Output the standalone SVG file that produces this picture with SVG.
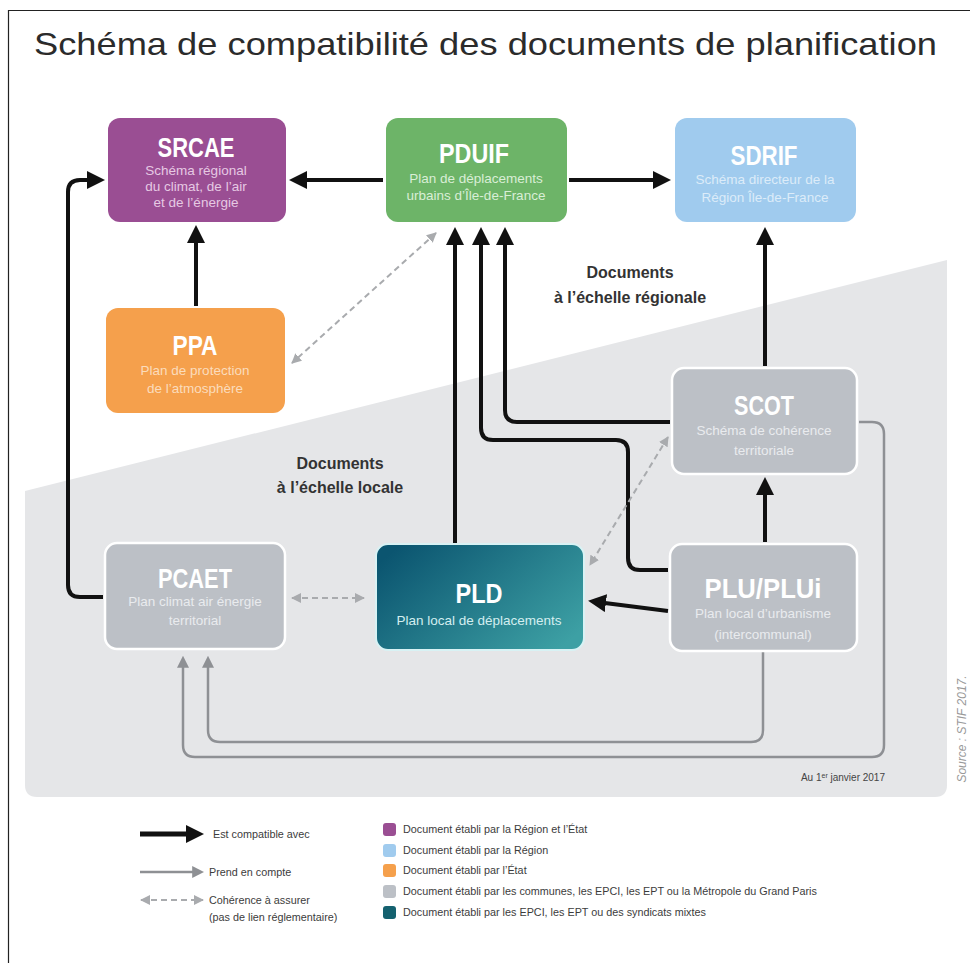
<svg xmlns="http://www.w3.org/2000/svg" width="970" height="963" viewBox="0 0 970 963">
  <defs>
    <style>
      .ttl { font-family: "Liberation Sans Narrow", "Liberation Sans", Arial, sans-serif; font-weight: bold; fill: #ffffff; text-anchor: middle; }
      .sub { font-family: "Liberation Sans", Arial, sans-serif; font-size: 13.5px; text-anchor: middle; }
      .zone { font-family: "Liberation Sans", Arial, sans-serif; font-size: 16px; font-weight: bold; fill: #333333; text-anchor: middle; }
      .leg { font-family: "Liberation Sans", Arial, sans-serif; font-size: 10.8px; fill: #3c3c3c; }
      .node rect { rx: 12px; ry: 12px; }
      .grey rect { fill: #bcc0c6; stroke: #ffffff; stroke-width: 2.5; }
      .grey .sub { fill: #e9ebee; }
      .blk { fill: none; stroke: #111111; stroke-width: 4; marker-end: url(#ah-black); }
      .gry { fill: none; stroke: #8e9094; stroke-width: 2.5; marker-end: url(#ah-grey); }
      .dsh { fill: none; stroke: #a9abae; stroke-width: 2; stroke-dasharray: 6 4; marker-start: url(#ah-dash); marker-end: url(#ah-dash); }
    </style>
    <marker id="ah-black" viewBox="0 0 10 10" refX="5" refY="5" markerWidth="18" markerHeight="18" markerUnits="userSpaceOnUse" orient="auto">
      <path d="M0,0 L10,5 L0,10 z" fill="#111111"/>
    </marker>
    <marker id="ah-grey" viewBox="0 0 10 10" refX="4" refY="5" markerWidth="12" markerHeight="12" markerUnits="userSpaceOnUse" orient="auto">
      <path d="M0,0 L10,5 L0,10 z" fill="#8e9094"/>
    </marker>
    <marker id="ah-dash" viewBox="0 0 10 10" refX="9" refY="5" markerWidth="10" markerHeight="10" markerUnits="userSpaceOnUse" orient="auto-start-reverse">
      <path d="M0,0 L10,5 L0,10 z" fill="#a9abae"/>
    </marker>
    <linearGradient id="teal" x1="0" y1="0.2" x2="1" y2="0.8">
      <stop offset="0" stop-color="#0b5570"/>
      <stop offset="1" stop-color="#3da0a4"/>
    </linearGradient>
  </defs>

  <!-- page -->
  <rect x="0" y="0" width="970" height="963" fill="#ffffff"/>
  <path d="M8.5,963 V10.5 H970" fill="none" stroke="#222222" stroke-width="1.2"/>

  <text x="34" y="55" font-family="Liberation Sans, Arial, sans-serif" font-size="32" fill="#2b2b2b" textLength="903" lengthAdjust="spacingAndGlyphs">Schéma de compatibilité des documents de planification</text>

  <!-- local-scale zone -->
  <path d="M25,491 L947,260 L947,785 Q947,797 935,797 L37,797 Q25,797 25,785 Z" fill="#e5e6e8"/>

  <text class="zone" x="630" y="278">Documents</text>
  <text class="zone" x="630" y="303">à l’échelle régionale</text>
  <text class="zone" x="340" y="469">Documents</text>
  <text class="zone" x="340" y="493">à l’échelle locale</text>

  <text x="885" y="781" font-family="Liberation Sans, Arial, sans-serif" font-size="10" fill="#444444" text-anchor="end">Au 1<tspan font-size="7" baseline-shift="super">er</tspan> janvier 2017</text>
  <text transform="translate(966,729) rotate(-90)" font-family="Liberation Sans, Arial, sans-serif" font-size="12" font-style="italic" fill="#9a9a9a" text-anchor="middle">Source : STIF 2017.</text>

  <!-- connectors -->
  <g id="connectors">
    <path class="blk" d="M383,180 H298"/>
    <path class="blk" d="M569,180 H662"/>
    <path class="blk" d="M196,306 V234"/>
    <path class="blk" d="M103,597 H80 Q68,597 68,585 V192 Q68,180 80,180 H96"/>
    <path class="blk" d="M455,543 V236"/>
    <path class="blk" d="M668,570 H640 Q628,570 628,558 V452 Q628,440 616,440 H493 Q481,440 481,428 V236"/>
    <path class="blk" d="M670,422 H517 Q505,422 505,410 V236"/>
    <path class="blk" d="M765,366 V236"/>
    <path class="blk" d="M765,542 V486"/>
    <path class="blk" d="M668,611 L597,602"/>

    <path class="gry" d="M763,652 V730 Q763,742 751,742 H220 Q208,742 208,730 V663"/>
    <path class="gry" d="M859,422 H872 Q884,422 884,434 V745 Q884,757 872,757 H195 Q183,757 183,745 V663"/>

    <path class="dsh" d="M436,233 L292,363"/>
    <path class="dsh" d="M668,437 L590,565"/>
    <path class="dsh" d="M292,598 L364,598"/>
  </g>

  <!-- nodes -->
  <g id="srcae" class="node">
    <rect x="108" y="118" width="178" height="104" fill="#9a4e93"/>
    <text class="ttl" x="196" y="157" font-size="28" textLength="77" lengthAdjust="spacingAndGlyphs">SRCAE</text>
    <text class="sub" x="196" y="175" fill="#e6c9e3">Schéma régional</text>
    <text class="sub" x="196" y="191" fill="#e6c9e3">du climat, de l’air</text>
    <text class="sub" x="196" y="207" fill="#e6c9e3">et de l’énergie</text>
  </g>

  <g id="pduif" class="node">
    <rect x="386" y="118" width="181" height="104" fill="#6db468"/>
    <text class="ttl" x="474" y="163" font-size="28" textLength="70" lengthAdjust="spacingAndGlyphs">PDUIF</text>
    <text class="sub" x="476" y="183" fill="#d9eed6">Plan de déplacements</text>
    <text class="sub" x="476" y="200" fill="#d9eed6">urbains d’Île-de-France</text>
  </g>

  <g id="sdrif" class="node">
    <rect x="675" y="118" width="181" height="104" fill="#a0cbee"/>
    <text class="ttl" x="764" y="165" font-size="28" textLength="67" lengthAdjust="spacingAndGlyphs">SDRIF</text>
    <text class="sub" x="765" y="184" fill="#dcecf9">Schéma directeur de la</text>
    <text class="sub" x="765" y="202" fill="#dcecf9">Région Île-de-France</text>
  </g>

  <g id="ppa" class="node">
    <rect x="106" y="308" width="179" height="105" fill="#f5a04c"/>
    <text class="ttl" x="195" y="355" font-size="28" textLength="45" lengthAdjust="spacingAndGlyphs">PPA</text>
    <text class="sub" x="195" y="375" fill="#fbdcbc">Plan de protection</text>
    <text class="sub" x="195" y="393" fill="#fbdcbc">de l’atmosphère</text>
  </g>

  <g id="scot" class="node grey">
    <rect x="672" y="368" width="185" height="106"/>
    <text class="ttl" x="764" y="415" font-size="28" textLength="60" lengthAdjust="spacingAndGlyphs">SCOT</text>
    <text class="sub" x="764" y="435">Schéma de cohérence</text>
    <text class="sub" x="764" y="455">territoriale</text>
  </g>

  <g id="pcaet" class="node grey">
    <rect x="105" y="543" width="180" height="106"/>
    <text class="ttl" x="195" y="588" font-size="28" textLength="74" lengthAdjust="spacingAndGlyphs">PCAET</text>
    <text class="sub" x="195" y="606">Plan climat air énergie</text>
    <text class="sub" x="195" y="625">territorial</text>
  </g>

  <g id="pld" class="node">
    <rect x="376" y="544" width="208" height="106" fill="url(#teal)" stroke="#d8f2f4" stroke-width="2"/>
    <text class="ttl" x="479" y="603" font-size="28" textLength="47" lengthAdjust="spacingAndGlyphs">PLD</text>
    <text class="sub" x="479" y="625" fill="#d3eef0">Plan local de déplacements</text>
  </g>

  <g id="plu" class="node grey">
    <rect x="670" y="544" width="187" height="107"/>
    <text class="ttl" x="763" y="598" font-size="28" textLength="117" lengthAdjust="spacingAndGlyphs">PLU/PLUi</text>
    <text class="sub" x="763" y="618">Plan local d’urbanisme</text>
    <text class="sub" x="763" y="639">(intercommunal)</text>
  </g>

  <!-- legend -->
  <g id="legend">
    <path d="M140,834 H195" fill="none" stroke="#111111" stroke-width="5" marker-end="url(#ah-black)"/>
    <text class="leg" x="213" y="838">Est compatible avec</text>
    <path class="gry" d="M140,872 H197"/>
    <text class="leg" x="209" y="876">Prend en compte</text>
    <path class="dsh" d="M141,900 L203,900"/>
    <text class="leg" x="209" y="904">Cohérence à assurer</text>
    <text class="leg" x="209" y="921">(pas de lien réglementaire)</text>

    <rect x="383" y="823" width="13" height="13" rx="3" fill="#9a4e93"/>
    <text class="leg" x="403" y="833">Document établi par la Région et l’État</text>
    <rect x="383" y="844" width="13" height="13" rx="3" fill="#a0cbee"/>
    <text class="leg" x="403" y="854">Document établi par la Région</text>
    <rect x="383" y="864" width="13" height="13" rx="3" fill="#f5a04c"/>
    <text class="leg" x="403" y="874">Document établi par l’État</text>
    <rect x="383" y="885" width="13" height="13" rx="3" fill="#bcc0c6"/>
    <text class="leg" x="403" y="895">Document établi par les communes, les EPCI, les EPT ou la Métropole du Grand Paris</text>
    <rect x="383" y="906" width="13" height="13" rx="3" fill="#14616f"/>
    <text class="leg" x="403" y="916">Document établi par les EPCI, les EPT ou des syndicats mixtes</text>
  </g>
</svg>
